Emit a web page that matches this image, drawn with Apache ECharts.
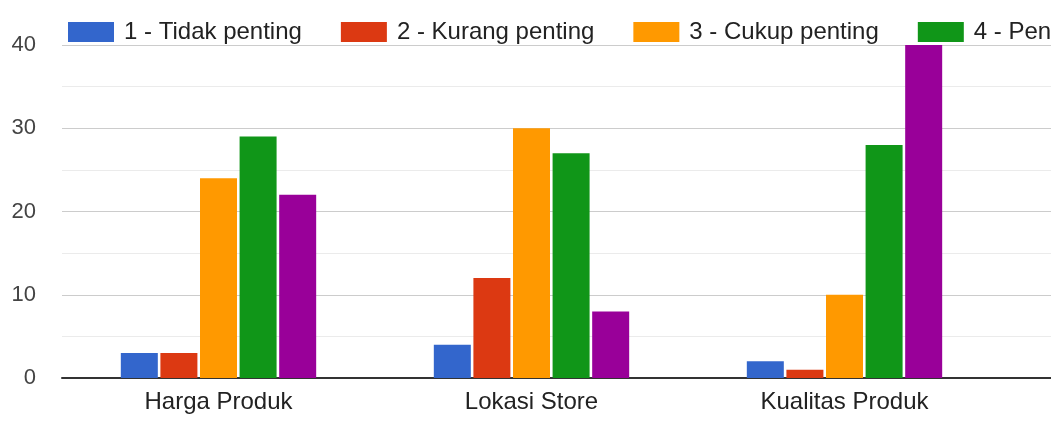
<!DOCTYPE html>
<html style="height: 100%">
<head>
    <meta charset="utf-8">
    <script type="text/javascript" src="https://cdn.jsdelivr.net/npm/echarts@6/dist/echarts.min.js"></script>
</head>
<body style="height: 100%; margin: 0; background: #fff">
<div id="container" style="width: 1051px; height: 423px"></div>
<script type="text/javascript">
    // kategori yang terlihat; grafik asli terpotong di kanan (slot ke-4 tidak terlihat)
    var categories = ["Harga Produk", "Lokasi Store", "Kualitas Produk"];
    var seriesNames = ["1 - Tidak penting", "2 - Kurang penting", "3 - Cukup penting", "4 - Penting", "5 - Sangat penting"];
    var tidakPenting = [3, 4, 2];
    var kurangPenting = [3, 12, 1];
    var cukupPenting = [24, 30, 10];
    var penting = [29, 27, 28];
    var sangatPenting = [22, 8, 40];
    var yTicks = [0, 10, 20, 30, 40];
    var colors = ["#3366cc", "#dc3912", "#ff9900", "#109618", "#990099"];

    var dom = document.getElementById("container");
    var myChart = echarts.init(dom);
    var allValues = [tidakPenting, kurangPenting, cukupPenting, penting, sangatPenting];

    var axisData = categories.concat([""]);
    var series = [];
    for (var i = 0; i < seriesNames.length; i++) {
        series.push({
            name: seriesNames[i],
            type: "bar",
            data: allValues[i].concat([null]),
            barWidth: 37,
            barGap: "7%",
            itemStyle: {color: colors[i]}
        });
    }

    var option = {
        animation: false,
        color: colors,
        legend: {
            left: 63,
            top: 15,
            width: 3000,
            icon: "rect",
            itemWidth: 46,
            itemHeight: 20,
            itemGap: 39,
            textStyle: {
                fontFamily: "Liberation Sans, Arial, sans-serif",
                fontSize: 24,
                color: "#222",
                padding: [0, 0, 0, 5]
            },
            data: seriesNames
        },
        grid: {
            left: 62,
            right: -263,
            top: 45,
            bottom: 45,
            outerBoundsMode: "none",
            containLabel: false
        },
        xAxis: {
            type: "category",
            data: axisData,
            axisTick: {show: false},
            axisLine: {lineStyle: {color: "#333", width: 2}},
            axisLabel: {
                fontFamily: "Liberation Sans, Arial, sans-serif",
                fontSize: 24,
                color: "#222",
                margin: 12
            }
        },
        yAxis: {
            type: "value",
            min: yTicks[0],
            max: yTicks[yTicks.length - 1],
            interval: 10,
            axisLine: {show: false},
            axisTick: {show: false},
            axisLabel: {
                fontFamily: "Liberation Sans, Arial, sans-serif",
                fontSize: 22,
                color: "#444",
                margin: 26
            },
            splitLine: {lineStyle: {color: "#cccccc", width: 1}},
            minorTick: {show: false, splitNumber: 2},
            minorSplitLine: {show: true, lineStyle: {color: "#ebebeb", width: 1}}
        },
        series: series
    };

    myChart.setOption(option, true);
</script>
</body>
</html>
